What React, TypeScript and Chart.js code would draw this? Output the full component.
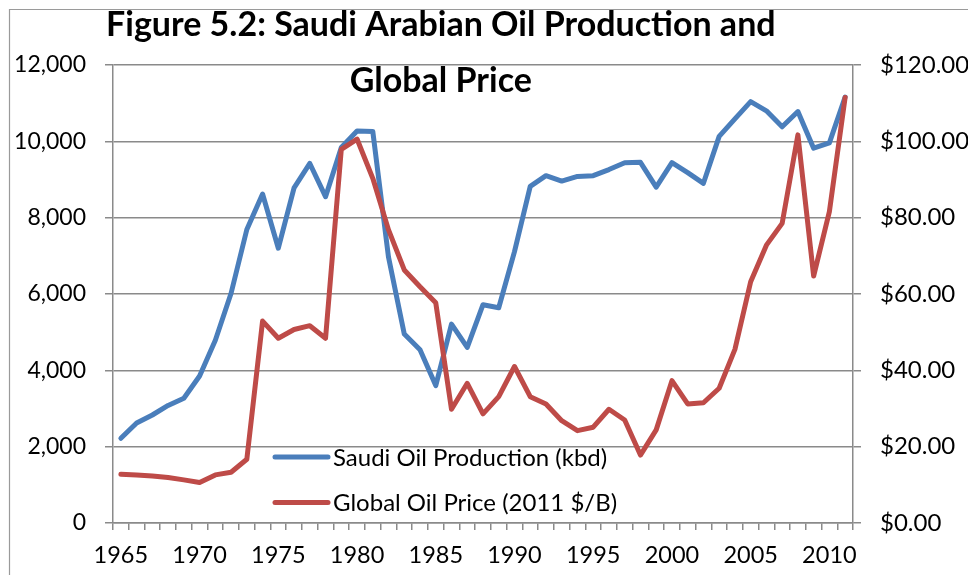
import React, { useEffect, useRef } from "react";
import { Chart, registerables } from "chart.js";

Chart.register(...registerables);

const years: string[] = [
  "1965", "1966", "1967", "1968", "1969", "1970", "1971", "1972", "1973", "1974",
  "1975", "1976", "1977", "1978", "1979", "1980", "1981", "1982", "1983", "1984",
  "1985", "1986", "1987", "1988", "1989", "1990", "1991", "1992", "1993", "1994",
  "1995", "1996", "1997", "1998", "1999", "2000", "2001", "2002", "2003", "2004",
  "2005", "2006", "2007", "2008", "2009", "2010", "2011",
];

const saudiProduction: number[] = [
  2220, 2620, 2830, 3080, 3270, 3850, 4790, 6020, 7690, 8620,
  7200, 8780, 9420, 8550, 9840, 10270, 10260, 6960, 4950, 4540,
  3600, 5210, 4600, 5720, 5640, 7110, 8820, 9100, 8960, 9080,
  9100, 9260, 9440, 9450, 8800, 9440, 9180, 8900, 10130, 10590,
  11040, 10800, 10380, 10780, 9820, 9960, 11160,
];

const globalPrice: number[] = [
  12.8, 12.6, 12.3, 11.9, 11.3, 10.6, 12.6, 13.3, 16.7, 52.9,
  48.4, 50.7, 51.7, 48.4, 97.9, 100.6, 90.3, 76.8, 66.3, 61.9,
  57.7, 29.8, 36.6, 28.6, 33.1, 41.0, 33.1, 31.2, 26.8, 24.2,
  25.1, 29.8, 27.0, 17.8, 24.4, 37.3, 31.2, 31.5, 35.3, 45.5,
  63.2, 72.8, 78.5, 101.7, 64.7, 81.6, 111.5,
];

const labeledYears: string[] = ["1965", "1970", "1975", "1980", "1985", "1990", "1995", "2000", "2005", "2010"];

const titleLines: string[] = ["Figure 5.2: Saudi Arabian Oil Production and", "Global Price"];
const seriesNames: string[] = ["Saudi Oil Production (kbd)", "Global Oil Price (2011 $/B)"];

const BLUE = "#4A7EBB";
const RED = "#BE4B48";
const GRID = "#8A8A8A";
const FONT = "Lato, 'Open Sans', sans-serif";

const decorPlugin = {
  id: "decor",
  beforeDraw(chart: any) {
    const ctx = chart.ctx;
    ctx.save();
    ctx.fillStyle = "#ffffff";
    ctx.fillRect(0, 0, chart.width, chart.height);
    ctx.strokeStyle = "#9a9a9a";
    ctx.lineWidth = 1.2;
    ctx.beginPath();
    ctx.moveTo(9.5, chart.height);
    ctx.lineTo(9.5, 9.5);
    ctx.lineTo(chart.width, 9.5);
    ctx.stroke();
    ctx.restore();
  },
  afterDraw(chart: any) {
    const ctx = chart.ctx;
    const area = chart.chartArea;
    ctx.save();
    // title
    ctx.fillStyle = "#000000";
    ctx.font = `bold 34px ${FONT}`;
    ctx.textAlign = "center";
    ctx.textBaseline = "alphabetic";
    const cx = area.left + (area.right - area.left) * 0.443;
    ctx.fillText(titleLines[0], cx, area.top - 29);
    ctx.fillText(titleLines[1], cx, area.top + 27);
    // legend
    const colors = [BLUE, RED];
    const lx0 = area.left + 162;
    const lx1 = area.left + 215;
    const rows = [area.top + 392, area.top + 437.5];
    ctx.font = `24px ${FONT}`;
    ctx.textAlign = "left";
    for (let i = 0; i < 2; i++) {
      ctx.strokeStyle = colors[i];
      ctx.lineWidth = 5;
      ctx.lineCap = "round";
      ctx.beginPath();
      ctx.moveTo(lx0, rows[i]);
      ctx.lineTo(lx1, rows[i]);
      ctx.stroke();
      ctx.fillStyle = "#000000";
      ctx.fillText(seriesNames[i], lx1 + 5, rows[i] + 8.5);
    }
    ctx.restore();
  },
};

export default function App() {
  const canvasRef = useRef<HTMLCanvasElement | null>(null);

  useEffect(() => {
    document.body.style.margin = "0";
    document.body.style.overflow = "hidden";
    const canvas = canvasRef.current;
    if (!canvas) return;
    const chart = new Chart(canvas, {
      type: "line",
      data: {
        labels: years,
        datasets: [
          {
            label: seriesNames[0],
            data: saudiProduction,
            yAxisID: "y",
            borderColor: BLUE,
            backgroundColor: BLUE,
            borderWidth: 5,
            pointRadius: 0,
            tension: 0,
            borderCapStyle: "round",
            borderJoinStyle: "round",
            order: 1,
          },
          {
            label: seriesNames[1],
            data: globalPrice,
            yAxisID: "y1",
            borderColor: RED,
            backgroundColor: RED,
            borderWidth: 5,
            pointRadius: 0,
            tension: 0,
            borderCapStyle: "round",
            borderJoinStyle: "round",
            order: 0,
          },
        ],
      },
      options: {
        responsive: false,
        animation: false,
        layout: { padding: { top: 65, left: 0, right: 0, bottom: 0 } },
        plugins: {
          legend: { display: false },
          title: { display: false },
          tooltip: { enabled: false },
        },
        scales: {
          x: {
            type: "category",
            offset: true,
            grid: {
              offset: true,
              drawOnChartArea: false,
              drawTicks: true,
              tickLength: 7,
              color: GRID,
              lineWidth: 1.5,
            },
            border: { display: true, color: GRID, width: 1.5 },
            ticks: {
              autoSkip: false,
              maxRotation: 0,
              minRotation: 0,
              padding: 11,
              color: "#000000",
              font: { family: FONT, size: 23.5 },
              callback: (_v: any, i: number) => (labeledYears.includes(years[i]) ? years[i] : ""),
            },
            afterFit: (s: any) => {
              s.height = 52;
            },
          },
          y: {
            position: "left",
            min: 0,
            max: 12000,
            grid: { color: GRID, lineWidth: 1.5, tickLength: 8, drawTicks: true },
            border: { display: true, color: GRID, width: 1.5 },
            ticks: {
              stepSize: 2000,
              padding: 19,
              color: "#000000",
              font: { family: FONT, size: 23 },
              callback: (v: any) => Number(v).toLocaleString("en-US"),
            },
            afterFit: (s: any) => {
              s.width = 113;
            },
          },
          y1: {
            position: "right",
            min: 0,
            max: 120,
            grid: { drawOnChartArea: false, color: GRID, lineWidth: 1.5, tickLength: 8, drawTicks: true },
            border: { display: true, color: GRID, width: 1.5 },
            ticks: {
              stepSize: 20,
              padding: 19,
              color: "#000000",
              font: { family: FONT, size: 24 },
              callback: (v: any) => "$" + Number(v).toFixed(2),
            },
            afterFit: (s: any) => {
              s.width = 115;
            },
          },
        },
      },
      plugins: [decorPlugin],
    });
    return () => chart.destroy();
  }, []);

  return (
    <div style={{ width: 968, height: 575, position: "relative" }}>
      <canvas ref={canvasRef} width={968} height={575} style={{ display: "block" }} />
    </div>
  );
}
